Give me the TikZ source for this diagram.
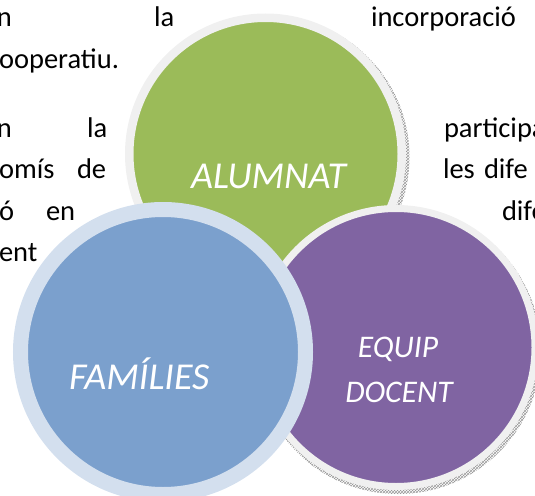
\documentclass[tikz,border=0pt]{standalone}
\usepackage{fontspec}
\setmainfont{Carlito}
\usetikzlibrary{patterns}
\definecolor{ringgray}{RGB}{240,240,240}
\definecolor{ringblue}{RGB}{211,223,238}
\definecolor{alumgreen}{RGB}{155,187,89}
\definecolor{famblue}{RGB}{123,160,205}
\definecolor{docpurple}{RGB}{128,100,162}
\begin{document}
\begin{tikzpicture}[x=1pt,y=-1pt,
  bodytext/.style={anchor=base west, inner sep=0pt, outer sep=0pt, text=black, font=\fontsize{28.5}{28.5}\selectfont},
  circtext/.style={anchor=base west, inner sep=0pt, outer sep=0pt, text=white, font=\fontsize{38}{38}\selectfont\itshape},
  eqtext/.style={anchor=base, inner sep=0pt, outer sep=0pt, text=white, font=\fontsize{31.5}{31.5}\selectfont\itshape},
  disc/.style={circle, inner sep=0pt, outer sep=0pt},
  shadowdisc/.style={circle, inner sep=0pt, outer sep=0pt, pattern=crosshatch, pattern color=gray!80}
]
\useasboundingbox (0,0) rectangle (535,495);
\clip (0,0) rectangle (535,495);
% background paragraph text
\node[bodytext] (t1a) at (-3,27) {n};
\node[bodytext] (t1b) at (154,27) {la};
\node[bodytext] (t1c) at (371,27) {incorporació};
\node[bodytext] (t2a) at (-1,68.5) {ooperatiu.};
\node[bodytext] (t3a) at (-3,137) {n};
\node[bodytext] (t3b) at (87,137) {la};
\node[bodytext] (t3c) at (444,137) {participa};
\node[bodytext] (t4a) at (-1,178) {omís};
\node[bodytext] (t4b) at (77,178) {de};
\node[bodytext] (t4c) at (443,178) {les};
\node[bodytext] (t4d) at (484,178) {dife};
\node[bodytext] (t5a) at (-1,220) {ó};
\node[bodytext] (t5b) at (46,220) {en};
\node[bodytext] (t5c) at (502,220) {dife};
\node[bodytext] (t6a) at (-1,261) {ent};
% green circle
\node[shadowdisc, minimum size=282pt] (gshadow) at (268.5,157) {};
\node[disc, minimum size=272.5pt, fill=alumgreen, draw=ringgray, line width=8.5pt] (alumnat) at (265.5,154) {};
% purple circle
\node[shadowdisc, minimum size=286pt] (pshadow) at (398,351) {};
\node[disc, minimum size=278pt, fill=docpurple, draw=ringgray, line width=7pt] (docent) at (396,347.5) {};
% blue circle
\node[disc, minimum size=285pt, fill=famblue, draw=ringblue, line width=15pt] (families) at (163,352) {};
% labels
\node[circtext] (alumnattxt) at (191,188) {ALUMNAT};
\node[circtext] (familiestxt) at (69,389) {FAMÍLIES};
\node[eqtext] (equiptxt) at (398,357) {EQUIP};
\node[eqtext] (docenttxt) at (399,402) {DOCENT};
\end{tikzpicture}
\end{document}
